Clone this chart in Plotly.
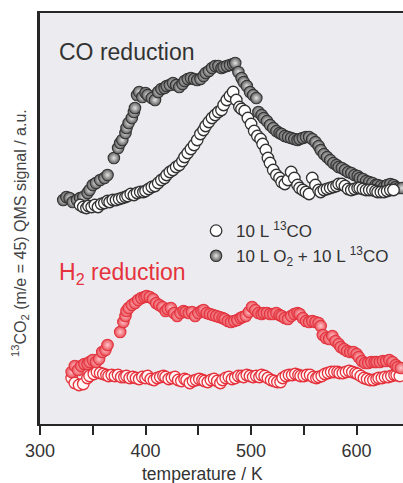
import plotly.graph_objects as go

# ---- data ----
t_gray = [322,325,328,331,335,338,341,345,347,350,353,357,361,364,370,374,376,378,381,382,384,387,389,390,
          392,394,397,400,402,406,409,412,415,418,420,423,426,429,432,435,437,440,443,446,449,452,455,457,460,
          463,466,469,472,474,477,480,483,485,488,491,493,496,499,502,505,507,510,512,515,518,521,524,527,529,
          532,535,538,541,544,546,549,552,555,558,561,564,566,569,572,575,578,581,583,586,589,592,595,598,601,
          603,606,609,612,615,618,620,623,626,629,632,635,637,640,643]
s_gray = [224,227,226,222,224,226,227,231,234,239,241,244,246,249,266,276,281,284,291,296,301,306,312,316,
          329,332,327,331,329,326,324,332,335,336,338,339,341,339,337,340,343,345,346,345,344,345,348,351,353,
          356,358,358,356,357,358,359,360,361,352,346,342,338,332,329,326,312,309,306,303,299,296,293,291,290,
          288,287,286,285,284,285,286,287,287,285,282,278,274,270,267,264,261,259,257,256,254,252,251,249,248,
          246,245,243,242,241,239,239,238,237,239,240,239,237,236,236]

t_white = [338,341,344,346,349,352,355,358,361,364,366,369,372,375,378,381,383,386,389,392,395,398,400,403,
           406,409,412,415,418,420,423,426,429,432,435,437,440,443,446,449,452,455,457,460,463,466,469,472,
           474,477,480,483,486,489,491,494,497,500,503,506,509,511,514,516,518,521,524,527,529,532,535,538,
           541,544,546,549,552,555,558,561,564,566,569,572,575,578,581,583,586,589,592,595,598,601,603,606,
           609,612,615,618,620,623,626,629,632,635]
s_white = [219,217,216,218,217,219,217,220,221,223,222,224,224,225,226,227,228,230,229,231,232,232,233,235,
           237,238,241,244,246,249,252,254,257,259,263,267,271,275,279,284,290,294,298,302,306,309,312,314,
           319,324,328,332,324,317,315,313,306,300,293,288,285,280,274,266,261,254,249,246,242,240,244,252,
           246,239,236,234,232,230,246,239,234,232,234,235,236,237,238,240,240,238,235,234,235,236,236,235,
           234,234,234,233,232,232,232,233,234,234]

t_h2_filled = [330,333,336,339,342,345,347,350,353,356,359,362,364,376,379,381,382,384,387,390,393,396,399,
               401,404,407,410,413,416,419,421,424,427,430,433,436,438,441,444,447,450,453,455,458,461,464,
               467,470,473,475,478,481,484,487,490,492,495,498,501,504,507,510,512,515,518,521,524,527,529,
               532,535,538,541,544,546,549,552,555,558,561,564,566,568,571,574,577,580,583,585,588,591,594,
               597,600,602,605,608,611,614,617,619,622,625,628,631,634,637,639,642]
s_h2_filled = [52,58,54,58,60,60,62,64,62,65,72,74,79,92,102,108,113,116,119,121,124,126,127,
               128,127,125,121,119,117,113,115,116,111,108,111,113,112,111,112,108,111,113,114,111,110,109,
               108,107,106,105,103,102,103,104,106,107,108,112,117,114,111,110,111,111,110,110,111,109,108,
               106,105,108,110,111,110,106,103,102,103,102,101,98,89,86,85,88,83,80,77,75,73,72,
               72,70,67,63,61,61,62,62,62,62,63,63,64,62,59,57,56]

t_h2_open = [330,333,337,341,345,347,351,354,357,360,363,365,368,371,374,377,380,382,385,388,391,394,397,
             400,402,405,408,411,414,417,419,422,425,428,431,434,437,439,442,445,448,451,454,456,459,462,
             465,468,471,473,476,479,482,485,488,491,493,496,499,502,505,508,510,513,516,519,522,525,528,
             530,533,536,539,542,545,547,550,553,556,559,562,564,567,570,573,576,579,582,584,587,590,593,
             596,599,601,604,607,610,613,616,619,621,624,627,630,633,636,638,641]
s_h2_open = [46,41,39,40,46,48,50,52,51,50,49,48,49,48,49,47,47,48,46,47,46,45,47,
             46,48,45,44,46,47,48,47,45,46,47,44,43,45,44,41,43,44,45,44,43,42,44,
             45,43,41,44,46,47,45,46,48,48,47,49,48,47,48,47,49,48,46,44,43,42,42,
             46,48,49,49,50,49,48,48,49,49,47,46,47,48,50,51,52,52,52,51,51,52,53,
             52,51,50,48,46,45,44,44,45,46,46,47,47,48,49,49,48]

x_tickvals = [300, 350, 400, 450, 500, 550, 600, 650]
x_ticktext = ["300", "", "400", "", "500", "", "600", ""]

label_white = "10 L <sup>13</sup>CO"
label_gray = "10 L O<sub>2</sub> + 10 L <sup>13</sup>CO"

FONT = "Arial, Liberation Sans, sans-serif"
DARK = "#333333"
RED = "#e5323d"
MS = 11.5

fig = go.Figure()

fig.add_trace(go.Scatter(
    x=t_gray, y=s_gray, mode="markers", name=label_gray, legendrank=2,
    marker=dict(size=MS, color="#5e5e5e", gradient=dict(type="radial", color="#e4e4e4"),
                line=dict(color="#333333", width=1.1)),
))
fig.add_trace(go.Scatter(
    x=t_white, y=s_white, mode="markers", name=label_white, legendrank=1,
    marker=dict(size=MS, color="#ffffff", line=dict(color="#333333", width=1.3)),
))
fig.add_trace(go.Scatter(
    x=t_h2_open, y=s_h2_open, mode="markers", showlegend=False,
    marker=dict(size=MS, color="#fff6f6", line=dict(color="#e5323d", width=1.3)),
))
fig.add_trace(go.Scatter(
    x=t_h2_filled, y=s_h2_filled, mode="markers", showlegend=False,
    marker=dict(size=MS, color="#ea4f58", gradient=dict(type="radial", color="#ffc6ca"),
                line=dict(color="#e2343f", width=1.1)),
))

fig.update_layout(
    width=403, height=483,
    margin=dict(l=40, r=0, t=13, b=59),
    paper_bgcolor="white",
    plot_bgcolor="#ececf0",
    font=dict(family=FONT, color=DARK),
    showlegend=True,
    legend=dict(
        x=0.43, y=0.513, xanchor="left", yanchor="top",
        bgcolor="rgba(0,0,0,0)", borderwidth=0,
        font=dict(size=17, color=DARK, family=FONT),
        tracegroupgap=0, itemsizing="trace",
    ),
    xaxis=dict(
        range=[300, 644], showgrid=False, zeroline=False,
        showline=True, linecolor="#262626", linewidth=2, mirror=True,
        ticks="outside", ticklen=9, tickwidth=2, tickcolor="#262626",
        tickvals=x_tickvals, ticktext=x_ticktext,
        tickfont=dict(size=18, color=DARK, family=FONT),
    ),
    yaxis=dict(
        range=[0, 411], showgrid=False, zeroline=False,
        showline=True, linecolor="#262626", linewidth=2.5, mirror=False,
        ticks="", showticklabels=False,
    ),
    annotations=[
        dict(text="<sup>13</sup>CO<sub>2</sub> (m/e = 45) QMS signal / a.u.",
             xref="paper", yref="paper", x=0, y=0.465, xshift=-20,
             xanchor="center", yanchor="middle", textangle=-90, showarrow=False,
             font=dict(size=16, color="#444444", family=FONT)),
        dict(text="temperature / K",
             xref="paper", yref="paper", x=(202 - 40) / 363, y=0, yshift=-50,
             xanchor="center", yanchor="middle", showarrow=False,
             font=dict(size=17.5, color=DARK, family=FONT)),
        dict(text="CO reduction", xref="paper", yref="paper", x=0.047, y=0.905,
             xanchor="left", yanchor="middle", showarrow=False,
             font=dict(size=23, color=DARK, family=FONT)),
        dict(text="H<sub>2</sub> reduction", xref="paper", yref="paper", x=0.047, y=0.367,
             xanchor="left", yanchor="middle", showarrow=False,
             font=dict(size=23, color=RED, family=FONT)),
    ],
)

fig.write_html("out.html")
